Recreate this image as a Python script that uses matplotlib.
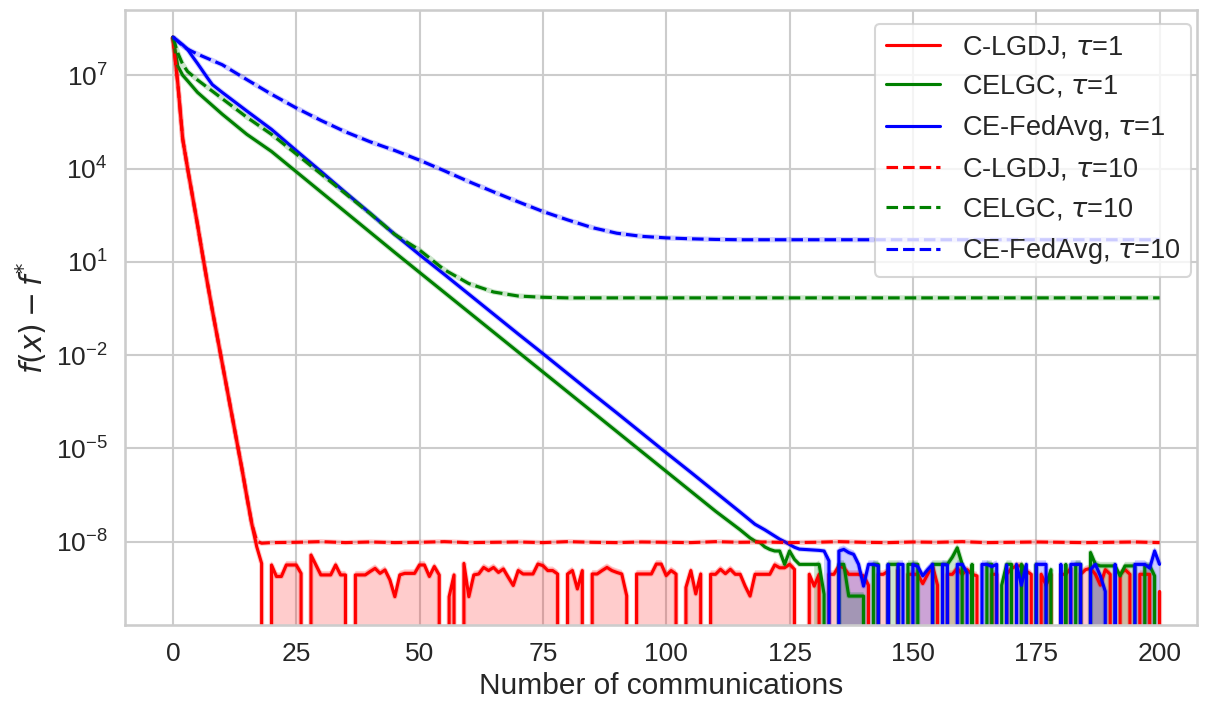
import numpy as np
import matplotlib
matplotlib.use("Agg")
import matplotlib.pyplot as plt
import seaborn as sns
from matplotlib.ticker import NullLocator

# Values are stored as log10 exponents; None marks an exact zero (drops off the log axis)

# C-LGDJ, tau=1 : every communication 0..200
clgdj_t1_x = list(range(0, 201))
clgdj_t1_exp = [
    8.23, 6.75, 4.95, 4.0, 3.1, 2.2, 1.25, 0.33, -0.55, -1.4,
    -2.25, -3.1, -3.95, -4.8, -5.65, -6.55, -7.42, -8.16, -8.7, None,
    -8.75, -9.12, -9.12, -8.75, -8.75, -8.75, -9.02, None, -8.43, -8.75,
    -9.07, -9.07, -9.07, -8.75, -9.07, -9.07, None, -9.07, -9.07, -9.07,
    -8.96, -8.86, -9.02, -8.91, -9.23, -9.77, -9.07, -9.02, -9.02, -9.02,
    -8.75, -8.75, -9.12, -8.8, -9.07, None, -9.77, -9.07, None, -8.7,
    -9.77, -9.07, -9.04, -8.83, -8.93, -8.83, -8.99, -8.88, -9.15, -9.41,
    -8.93, -9.04, -9.04, -9.04, -8.72, -8.77, -8.93, -8.93, -9.04, None,
    -9.04, -8.93, -9.52, -8.93, None, -9.04, -9.04, -8.93, -8.83, -8.93,
    -8.99, -9.04, -9.74, None, -9.04, -9.04, -9.04, -9.04, -8.72, -8.72,
    -9.09, -8.93, -9.04, None, -9.47, -8.93, -9.68, -9.04, None, -9.05,
    -9.05, -8.89, -9.03, -8.89, -9.05, -9.05, -9.43, -9.75, -9.05, -9.05,
    -9.05, -9.05, -8.75, -8.84, -8.84, -8.73, -8.89, None, None, -9.05,
    -9.43, -9.05, None, -9.05, -9.05, -8.78, -8.84, -9.05, -9.05, -9.05,
    -9.1, -9.4, None, -9.05, -9.05, -8.95, None, -8.9, None, -9.05,
    -9.05, -9.05, -9.35, -9.05, -8.78, -9.4, None, -9.05, -9.05, -8.86,
    -9.05, -8.9, -9.05, -9.1, None, None, -9.05, -9.05, None, -9.05,
    -8.86, -8.78, -8.78, -8.95, -9.05, None, -9.05, -9.4, -9.05, None,
    -9.05, -9.05, -8.86, None, -9.05, -8.9, -8.86, -9.05, -9.4, -8.9,
    -9.05, None, -9.05, -8.9, -9.05, None, -9.05, -9.05, -9.05, None,
    -9.6,
]

# CELGC, tau=1
celgc_t1_x = [0, 1, 2, 3, 5] + list(range(10, 116, 5)) + list(range(116, 201))
celgc_t1_exp = [
    8.23, 7.3, 7.0, 6.82, 6.45,
    5.75, 5.1, 4.55, 3.9, 3.25, 2.6, 1.95, 1.3, 0.66, 0.02, -0.62,
    -1.26, -1.9, -2.54, -3.18, -3.82, -4.46, -5.1, -5.74, -6.38, -7.02, -7.62,
    -7.75, -7.88, -7.98, -8.03, -8.17, -8.25, -8.3, -8.3, -8.73, -8.3,
    -8.57, -8.73, -8.73, -8.73, -8.73, -8.73, -9.69, None, None, -8.73,
    -8.73, -9.75, -9.75, -9.75, -9.75, None, -8.73, -8.73, None, -8.73,
    -8.73, -8.73, None, -8.73, -8.73, -8.73, None, None, -8.73, -8.73,
    -8.73, -8.73, -8.5, -8.2, -8.73, None, -8.73, None, None, -8.73,
    -8.73, None, -9.4, -8.73, -8.73, None, -8.73, -9.0, None, -8.73,
    None, -9.4, -8.9, None, None, -8.73, None, -8.73, -8.73, None,
    -8.35, -8.73, -8.78, -8.78, -8.78, -8.78, -9.1, -8.78, -8.78, -8.78,
    None, -8.78, -8.78, -9.1, None,
]

# CE-FedAvg, tau=1
cefedavg_t1_x = [0, 1, 2, 3, 4, 5, 6, 7, 8] + list(range(10, 116, 5)) + list(range(118, 201))
cefedavg_t1_exp = [
    8.23, 8.1, 7.98, 7.83, 7.6, 7.38, 7.15, 6.92, 6.7,
    6.45, 5.85, 5.26, 4.58, 3.91, 3.23, 2.56, 1.88, 1.23, 0.6, -0.04,
    -0.68, -1.32, -1.95, -2.59, -3.23, -3.86, -4.5, -5.14, -5.77, -6.41, -7.05,
    -7.44, -7.53, -7.62, -7.72, -7.82, -7.92, -8.0, -8.09, -8.18, -8.24,
    -8.25, -8.26, -8.27, -8.28, -8.3, -8.62, None, -8.3, -8.25, -8.35,
    -8.41, -8.73, -9.43, -8.73, -8.73, -8.78, None, -8.73, None, -8.73,
    -8.73, None, -8.73, -8.8, -9.1, -8.9, -8.73, None, -8.73, -8.75,
    None, -8.73, -8.73, -9.0, None, None, -8.73, -8.73, -8.8, -8.73,
    None, -8.75, None, -8.73, -9.4, -8.73, None, -8.73, -8.73, -8.73,
    None, None, -8.73, None, -8.73, -8.73, -8.73, None, -8.9, -8.73,
    -9.1, -9.6, None, -8.73, None, None, None, -8.73, -8.73, -8.73,
    -8.85, -8.3, -8.73,
]

# C-LGDJ, tau=10
clgdj_t10_x = list(range(0, 19)) + list(range(20, 201, 5))
clgdj_t10_exp = [
    8.23, 6.75, 4.95, 4.0, 3.1, 2.2, 1.25, 0.33, -0.55, -1.4,
    -2.25, -3.1, -3.95, -4.8, -5.65, -6.55, -7.42, -7.98, -8.05,
    -8.03, -8.02, -8.0, -8.03, -8.01, -8.03, -8.02, -8.0, -8.03, -8.02,
    -8.01, -8.03, -8.0, -8.02, -8.03, -8.01, -8.02, -8.03, -8.0, -8.02,
    -8.01, -8.03, -8.02, -8.0, -8.02, -8.03, -8.01, -8.02, -8.0, -8.03,
    -8.02, -8.01, -8.02, -8.03, -8.02, -8.01, -8.03,
]

# CELGC, tau=10
celgc_t10_x = [0, 1, 2, 3, 5] + list(range(10, 81, 5)) + [100, 125, 150, 175, 200]
celgc_t10_exp = [
    8.23, 7.72, 7.35, 7.12, 6.85,
    6.25, 5.65, 5.1, 4.47, 3.83, 3.19, 2.55, 1.88, 1.38, 0.75, 0.3,
    0.03, -0.1, -0.14, -0.16,
    -0.16, -0.16, -0.16, -0.16, -0.16,
]

# CE-FedAvg, tau=10
cefedavg_t10_x = [0, 1, 2, 3, 5] + list(range(10, 116, 5)) + [150, 200]
cefedavg_t10_exp = [
    8.23, 8.1, 7.95, 7.84, 7.68,
    7.34, 6.86, 6.39, 5.95, 5.55, 5.18, 4.86, 4.58, 4.27, 3.93, 3.58,
    3.25, 2.93, 2.62, 2.35, 2.1, 1.92, 1.82, 1.77, 1.74, 1.72, 1.71,
    1.71, 1.71,
]

BAND_SPREAD = 1.35
LINE_WIDTH = 2.25


def to_values(exps):
    return np.array([0.0 if e is None else 10.0 ** e for e in exps])


def draw_series(ax, xs, exps, color, style, label, floor_from=None):
    xs = np.array(xs)
    ys = to_values(exps)
    # faint confidence band hugging the mean curve
    ax.plot(xs, ys, color=color, alpha=0.2, linewidth=LINE_WIDTH + 1.5,
            solid_capstyle="butt")
    if floor_from is not None:
        noisy = xs >= floor_from
        upper = np.where(noisy, ys * BAND_SPREAD, ys)
        lower = np.where(noisy, 0.0, ys)
        ax.fill_between(xs, lower, upper, color=color, alpha=0.2, linewidth=0)
    line, = ax.plot(xs, ys, color=color, linestyle=style, linewidth=LINE_WIDTH, label=label)
    return line


sns.set_theme(style="whitegrid", context="talk")
plt.rcParams["font.family"] = ["Liberation Sans", "DejaVu Sans"]

fig = plt.figure(figsize=(12.18, 7.12), dpi=100)
ax = fig.add_axes([0.1026, 0.1222, 0.8802, 0.8638])
ax.set_yscale("log")

handles = [
    draw_series(ax, clgdj_t1_x, clgdj_t1_exp, "red", "-", r"C-LGDJ, $\tau$=1", floor_from=19),
    draw_series(ax, celgc_t1_x, celgc_t1_exp, "green", "-", r"CELGC, $\tau$=1", floor_from=131),
    draw_series(ax, cefedavg_t1_x, cefedavg_t1_exp, "blue", "-", r"CE-FedAvg, $\tau$=1", floor_from=133),
    draw_series(ax, clgdj_t10_x, clgdj_t10_exp, "red", "--", r"C-LGDJ, $\tau$=10"),
    draw_series(ax, celgc_t10_x, celgc_t10_exp, "green", "--", r"CELGC, $\tau$=10"),
    draw_series(ax, cefedavg_t10_x, cefedavg_t10_exp, "blue", "--", r"CE-FedAvg, $\tau$=10"),
]

ax.set_xlim(-9.7, 207.6)
ax.set_ylim(10 ** -10.68, 10 ** 9.1)
ax.set_xticks([0, 25, 50, 75, 100, 125, 150, 175, 200])
ax.set_yticks([1e-8, 1e-5, 1e-2, 1e1, 1e4, 1e7])
ax.yaxis.set_minor_locator(NullLocator())
ax.tick_params(labelsize=19)

ax.set_xlabel("Number of communications", fontsize=21.5)
ax.set_ylabel(r"$f(x) - f^{*}$", fontsize=21.5)

ax.legend(handles=handles, loc="upper right", bbox_to_anchor=(1.007, 1.0), fontsize=19.5)

fig.savefig("out.png", dpi=100)
